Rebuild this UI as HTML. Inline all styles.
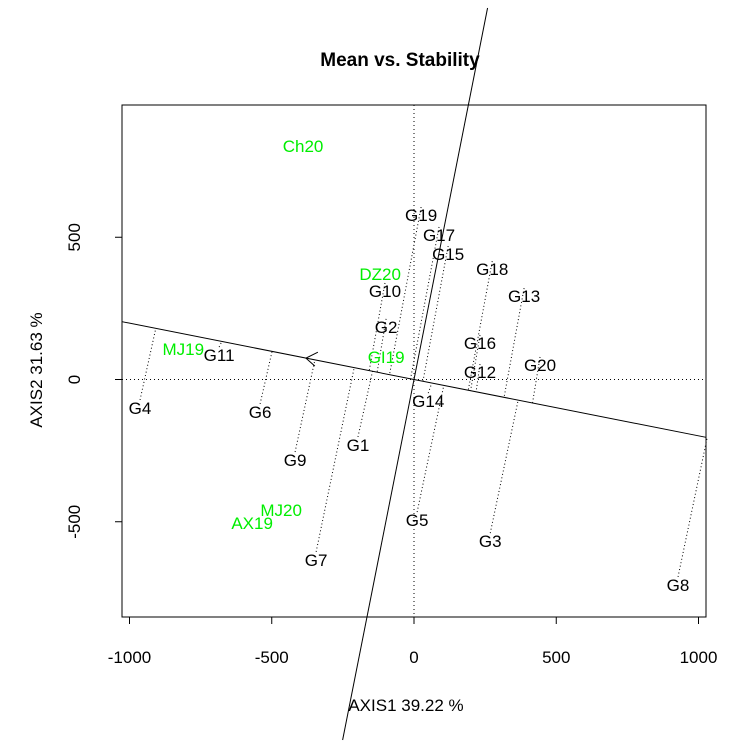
<!DOCTYPE html>
<html><head><meta charset="utf-8"><style>
body{margin:0;background:#fff;}
svg{display:block;font-family:"Liberation Sans",Arial,sans-serif;}
</style></head><body>
<svg id="chart" width="730" height="747"></svg>
<script>
const genoNames=["G19","G17","G15","G18","G13","G10","G2","G16","G12","G20","G11","G4","G6","G14","G1","G9","G5","G3","G7","G8"];
const genoX=[25,88,120,275,387,-102,-98,232,232,443,-685,-963,-541,50,-197,-418,11,268,-344,928];
const genoY=[578,508,441,388,293,311,185,128,26,51,86,-100,-114,-76,-230,-283,-494,-568,-634,-722];
const envNames=["Ch20","DZ20","GI19","MJ19","MJ20","AX19"];
const envX=[-390,-119,-98,-811,-467,-569];
const envY=[821,371,79,107,-459,-504];
const xTicks=[-1000,-500,0,500,1000];
const yTicks=[-500,0,500];
const aeaDir=[-1,0.198];
const aeaArrow=[-380,75];

const NS="http://www.w3.org/2000/svg";
const svg=document.getElementById('chart');
const L=122,R=706,T=105,B=617,X0=414,Y0=379.5,S=0.2845;
const sx=v=>X0+v*S, sy=v=>Y0-v*S;
function mk(tag,attrs,parent){const e=document.createElementNS(NS,tag);for(const k in attrs)e.setAttribute(k,attrs[k]);(parent||svg).appendChild(e);return e;}

const box=mk('rect',{x:L,y:T,width:R-L,height:B-T,fill:'none',stroke:'#000','stroke-width':1});



const hz=mk('line',{x1:L,x2:R,y1:sy(0),y2:sy(0),stroke:'#000','stroke-dasharray':'1,3'});


const vz=mk('line',{x1:sx(0),x2:sx(0),y1:T,y2:B,stroke:'#000','stroke-dasharray':'1,3'});



const m=aeaDir[1]/aeaDir[0];
const dxL=(L-X0)/S, dxR=(R-X0)/S;
const ab=mk('line',{x1:L,y1:sy(m*dxL),x2:R,y2:sy(m*dxR),stroke:'#000','stroke-width':1});


const om=-1/m;
const oy1=(Y0-8)/S, oy2=(Y0-740)/S;
const ord=mk('line',{x1:sx(oy1/om),y1:8,x2:sx(oy2/om),y2:740,stroke:'#000','stroke-width':1});


const ax=sx(aeaArrow[0]), ay=sy(aeaArrow[1]);
const arr=mk('path',{d:`M${ax+12},${ay-6} L${ax},${ay} L${ax+9},${ay+8}`,fill:'none',stroke:'#000','stroke-width':1});



const ux=aeaDir[0]/Math.hypot(aeaDir[0],aeaDir[1]), uy=aeaDir[1]/Math.hypot(aeaDir[0],aeaDir[1]);
genoNames.forEach((n,i)=>{
  const gx=genoX[i], gy=genoY[i];
  const t=gx*ux+gy*uy;
  const px=sx(t*ux), py=sy(t*uy);
  let qx=sx(gx), qy=sy(gy)-8;
  const ln=mk('line',{x1:qx,y1:qy,x2:px,y2:py,stroke:'#000','stroke-dasharray':'1,2.5','stroke-width':1});
  
  
});
genoNames.forEach((n,i)=>{
  const t=mk('text',{x:sx(genoX[i]),y:sy(genoY[i])+6,'text-anchor':'middle','font-size':17,fill:'#000'});
  t.textContent=n;
  
  
});
envNames.forEach((n,i)=>{
  const t=mk('text',{x:sx(envX[i]),y:sy(envY[i])+6,'text-anchor':'middle','font-size':17,fill:'#00ee00'});
  t.textContent=n;
  
  
});

xTicks.forEach(v=>{
  const tk=mk('line',{x1:sx(v),x2:sx(v),y1:B,y2:B+7,stroke:'#000'});
  
  
  const t=mk('text',{x:sx(v),y:B+46,'text-anchor':'middle','font-size':17});
  t.textContent=v;
  
  
});
yTicks.forEach(v=>{
  const tk=mk('line',{x1:L-7,x2:L,y1:sy(v),y2:sy(v),stroke:'#000'});
  
  
  const t=mk('text',{x:80,y:sy(v),'text-anchor':'middle','font-size':17,transform:`rotate(-90 80 ${sy(v)})`});
  t.textContent=v;
  
  
});

const title=mk('text',{x:400,y:66,'text-anchor':'middle','font-size':19,'font-weight':'bold'});
title.textContent='Mean vs. Stability';


const xl=mk('text',{x:406,y:711,'text-anchor':'middle','font-size':17});
xl.textContent='AXIS1 39.22 %';


const yl=mk('text',{x:42,y:370,'text-anchor':'middle','font-size':17,transform:'rotate(-90 42 370)'});
yl.textContent='AXIS2 31.63 %';


</script>
</body></html>
